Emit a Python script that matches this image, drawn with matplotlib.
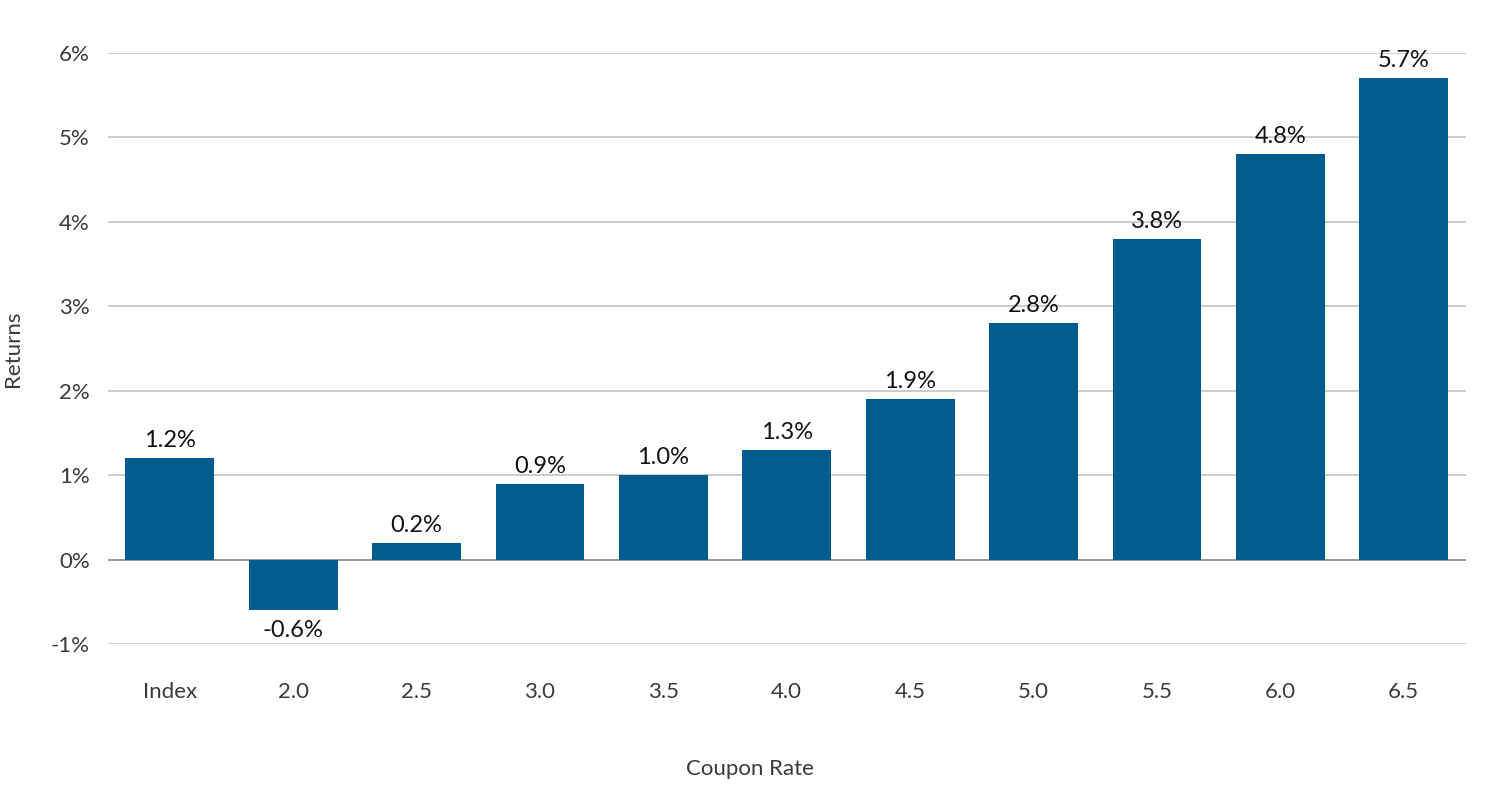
import matplotlib
matplotlib.use('Agg')
import matplotlib.pyplot as plt

categories = ['Index', '2.0', '2.5', '3.0', '3.5', '4.0', '4.5', '5.0', '5.5', '6.0', '6.5']
returns = [1.2, -0.6, 0.2, 0.9, 1.0, 1.3, 1.9, 2.8, 3.8, 4.8, 5.7]
yticks = [-1, 0, 1, 2, 3, 4, 5, 6]

plt.rcParams['font.family'] = ['Lato', 'DejaVu Sans']

fig = plt.figure(figsize=(15, 8), dpi=100)
ax = fig.add_axes([0.072, 0.195, 0.905, 0.739])

x = list(range(len(categories)))
ax.bar(x, returns, width=0.72, color='#005b8f', zorder=3)

# value labels above / below bars
for xi, v in zip(x, returns):
    if v >= 0:
        ax.annotate(f'{v:.1f}%', (xi, v), xytext=(0, 5), textcoords='offset points',
                    ha='center', va='bottom', fontsize=17, color='#111111')
    else:
        ax.annotate(f'{v:.1f}%', (xi, v), xytext=(0, -7), textcoords='offset points',
                    ha='center', va='top', fontsize=17, color='#111111')

tick_color = '#3a3a3a'
ax.set_xlim(-0.5, len(categories) - 0.5)
ax.set_ylim(-1, 6)
ax.set_yticks(yticks)
ax.set_yticklabels([f'{t}%' for t in yticks], fontsize=16, color=tick_color)
ax.set_xticks(x)
ax.set_xticklabels(categories, fontsize=16, color=tick_color)

for t in yticks:
    ax.axhline(t, color='#888888' if t == 0 else '#c4c4c4', lw=1.2, zorder=2)

for s in ax.spines.values():
    s.set_visible(False)
ax.tick_params(axis='both', length=0)
ax.tick_params(axis='y', pad=13)
ax.tick_params(axis='x', pad=27)

ax.set_xlabel('Coupon Rate', fontsize=16, color=tick_color)
ax.xaxis.set_label_coords(0.473, -0.195)
ax.set_ylabel('Returns', fontsize=16, color=tick_color, labelpad=20)

fig.savefig('out.png', dpi=100)
